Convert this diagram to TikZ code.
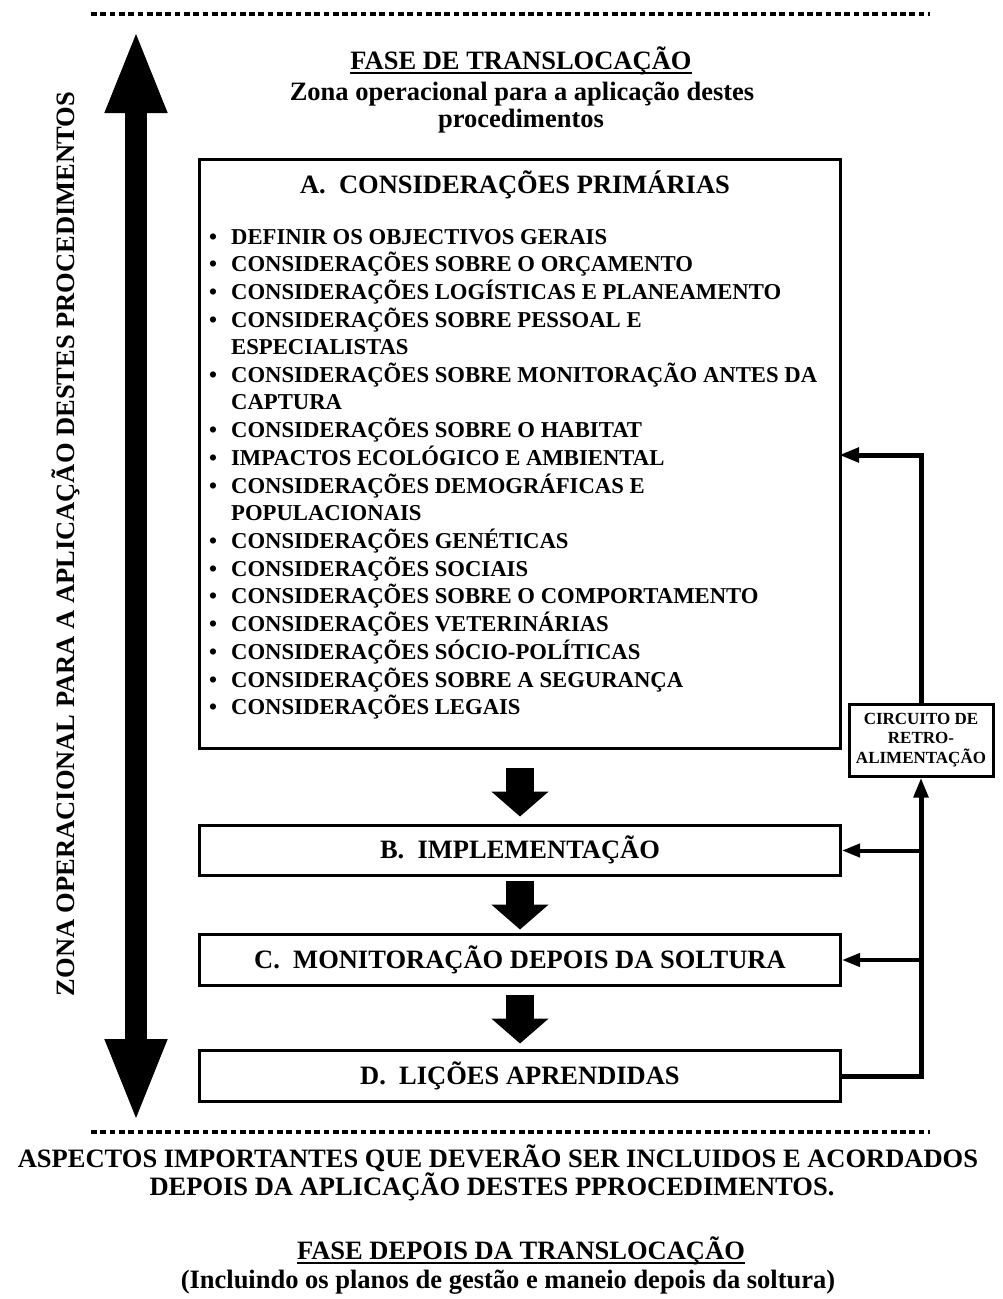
\documentclass[tikz,border=0pt]{standalone}
\usepackage{fontspec}
\setmainfont{Liberation Serif}
\usetikzlibrary{arrows.meta}
\begin{document}
\begin{tikzpicture}[x=1pt,y=-1pt,
  box/.style={draw,line width=3pt,inner sep=0pt},
  big/.style={font=\fontsize{26.5}{28}\selectfont\bfseries,inner sep=0pt},
  dots/.style={line width=4.3pt,dash pattern=on 5.7pt off 3.6pt},
  blk/.style={line width=28pt,-{Triangle[length=25pt,width=56pt]}},
  fbthick/.style={line width=5pt,-{Triangle[length=20pt,width=14pt]}},
  fbthin/.style={line width=4pt,-{Triangle[length=18pt,width=13pt]}},
  uline/.style={line width=2pt}]
\useasboundingbox (0,0) rectangle (1003,1299);

% dotted separators
\coordinate (dtl) at (91,14);
\coordinate (dtr) at (930,14);
\coordinate (dbl) at (91,1132);
\coordinate (dbr) at (930,1132);
\draw[dots] (dtl) -- (dtr);
\draw[dots] (dbl) -- (dbr);

% big double arrow
\coordinate (ztop) at (136,29);
\coordinate (zbot) at (136,1123);
\draw[line width=22pt,{Triangle[length=84pt,width=56pt]}-{Triangle[length=84pt,width=56pt]}] (ztop) -- (zbot);

\node[big,rotate=90] (zona) at (66,544) {ZONA OPERACIONAL PARA A APLICAÇÃO DESTES PROCEDIMENTOS};

% top titles
\node[big,anchor=base] (t1) at (521,69) {FASE DE TRANSLOCAÇÃO};
\draw[uline] ([yshift=-3.5pt]t1.base west) -- ([yshift=-3.5pt]t1.base east);
\node[big,anchor=base] (t2) at (522,100) {Zona operacional para a aplicação destes};
\node[big,anchor=base] (t3) at (521,127) {procedimentos};

% box A
\node[box,minimum width=641pt,minimum height=589pt,anchor=north west] (boxA) at (198,158) {};
\node[big,anchor=base] (tA) at (515,193) {A.\ \ CONSIDERAÇÕES PRIMÁRIAS};
\node[anchor=base west,inner sep=0pt,font=\fontsize{22.7}{27.5}\selectfont\bfseries] (list) at (209,244) {%
\begin{tabular}[t]{@{}l@{\hspace{14pt}}l@{}}
\textbullet & DEFINIR OS OBJECTIVOS GERAIS\\
\textbullet & CONSIDERAÇÕES SOBRE O ORÇAMENTO\\
\textbullet & CONSIDERAÇÕES LOGÍSTICAS E PLANEAMENTO\\
\textbullet & CONSIDERAÇÕES SOBRE PESSOAL E\\
 & ESPECIALISTAS\\
\textbullet & CONSIDERAÇÕES SOBRE MONITORAÇÃO ANTES DA\\
 & CAPTURA\\
\textbullet & CONSIDERAÇÕES SOBRE O HABITAT\\
\textbullet & IMPACTOS ECOLÓGICO E AMBIENTAL\\
\textbullet & CONSIDERAÇÕES DEMOGRÁFICAS E\\
 & POPULACIONAIS\\
\textbullet & CONSIDERAÇÕES GENÉTICAS\\
\textbullet & CONSIDERAÇÕES SOCIAIS\\
\textbullet & CONSIDERAÇÕES SOBRE O COMPORTAMENTO\\
\textbullet & CONSIDERAÇÕES VETERINÁRIAS\\
\textbullet & CONSIDERAÇÕES SÓCIO-POLÍTICAS\\
\textbullet & CONSIDERAÇÕES SOBRE A SEGURANÇA\\
\textbullet & CONSIDERAÇÕES LEGAIS
\end{tabular}};

% boxes B C D
\node[box,minimum width=641pt,minimum height=50pt,anchor=north west] (boxB) at (198,824) {};
\node[big,anchor=base] (tB) at (boxB.center |- 0,858) {B.\ \ IMPLEMENTAÇÃO};
\node[box,minimum width=641pt,minimum height=51pt,anchor=north west] (boxC) at (198,933) {};
\node[big,anchor=base] (tC) at (boxC.center |- 0,968) {C.\ \ MONITORAÇÃO DEPOIS DA SOLTURA};
\node[box,minimum width=641pt,minimum height=51pt,anchor=north west] (boxD) at (198,1049) {};
\node[big,anchor=base] (tD) at (boxD.center |- 0,1084) {D.\ \ LIÇÕES APRENDIDAS};

% block arrows
\draw[blk,shorten <=17.5pt,shorten >=7.5pt] (boxA.south) -- (boxB.north);
\draw[blk,shorten <=3.5pt,shorten >=3.5pt] (boxB.south) -- (boxC.north);
\draw[blk,shorten <=7.5pt,shorten >=5.5pt] (boxC.south) -- (boxD.north);

% feedback
\node[box,minimum width=144pt,minimum height=72pt,align=center,
      font=\fontsize{17}{19.5}\selectfont\bfseries] (fb) at (921,740) {CIRCUITO DE\\RETRO-\\ALIMENTAÇÃO};
\coordinate (aIn) at (839,455);
\draw[fbthick] (boxD.east) -| (fb.south);
\draw[fbthick] (fb.north) |- (aIn);
\draw[fbthin] (fb.south |- boxB.east) -- (boxB.east);
\draw[fbthin] (fb.south |- boxC.east) -- (boxC.east);

% bottom texts
\node[big,anchor=base] (b1) at (498,1167) {ASPECTOS IMPORTANTES QUE DEVERÃO SER INCLUIDOS E ACORDADOS};
\node[big,anchor=base] (b2) at (492,1195) {DEPOIS DA APLICAÇÃO DESTES PPROCEDIMENTOS.};
\node[big,anchor=base] (b3) at (521,1259) {FASE DEPOIS DA TRANSLOCAÇÃO};
\draw[uline] ([yshift=-3.5pt]b3.base west) -- ([yshift=-3.5pt]b3.base east);
\node[big,anchor=base] (b4) at (508,1288) {(Incluindo os planos de gestão e maneio depois da soltura)};
\end{tikzpicture}
\end{document}
